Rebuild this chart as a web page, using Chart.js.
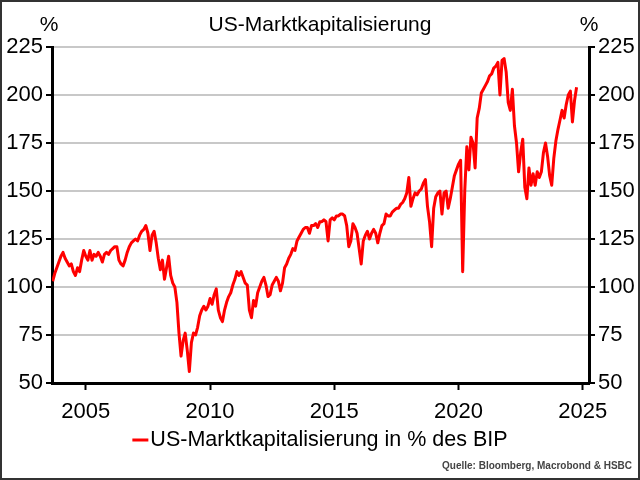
<!DOCTYPE html>
<html>
<head>
<meta charset="utf-8">
<script src="https://cdn.jsdelivr.net/npm/chart.js@4.4.1/dist/chart.umd.min.js"></script>
<style>
  html, body { margin: 0; padding: 0; background: #fff; }
  #wrap { width: 640px; height: 480px; position: relative; }
</style>
</head>
<body>
<div id="wrap"><canvas id="grafik" width="640" height="480"></canvas></div>
<script>
// ======================
// DATEN
// ======================

const titel = "US-Marktkapitalisierung";
const legendeText = "US-Marktkapitalisierung in % des BIP";
const quelle = "Quelle: Bloomberg, Macrobond & HSBC";

// monatlich, ab September 2003
const startJahr = 2003;
const startMonat = 9;

const werte = [
  103, 107, 110, 113,                                        // 2003 (Sep-Dez)
  116, 118, 115, 113, 111, 112, 108, 106, 110, 108, 114, 119, // 2004
  116, 114, 119, 114, 117, 116, 118, 116, 113, 117, 118, 117, // 2005
  119, 120, 121, 121, 114, 112, 111, 114, 118, 121, 123, 124, // 2006
  125, 124, 127, 129, 130, 132, 128, 119, 127, 129, 123, 115, // 2007
  109, 114, 104, 110, 116, 106, 102, 100, 92, 76, 64, 72,     // 2008
  76, 67, 56, 71, 76, 75, 79, 85, 88, 90, 88, 90,             // 2009
  94, 91, 96, 99, 88, 84, 82, 88, 92, 95, 97, 101,            // 2010
  104, 108, 106, 108, 105, 102, 101, 88, 84, 93, 90, 97,      // 2011
  100, 103, 105, 101, 95, 96, 101, 103, 105, 103, 98, 102,    // 2012
  110, 112, 115, 117, 120, 119, 124, 126, 128, 130, 131, 131, // 2013
  128, 132, 132, 133, 131, 134, 134, 135, 134, 124, 135, 136, // 2014
  135, 137, 137, 138, 138, 137, 132, 121, 124, 133, 131, 128, // 2015
  120, 112, 124, 127, 129, 125, 128, 130, 128, 123, 128, 132, // 2016
  133, 138, 137, 137, 139, 140, 141, 141, 143, 144, 146, 149, // 2017
  157, 142, 146, 149, 148, 150, 151, 154, 156, 142, 134, 121, // 2018
  141, 147, 149, 150, 138, 149, 150, 141, 146, 152, 158, 161, // 2019
  164, 166, 108, 150, 173, 161, 178, 175, 162, 188, 193, 201, // 2020
  203, 205, 207, 210, 211, 214, 215, 217, 200, 218, 219, 212, // 2021
  196, 192, 203, 184, 175, 160, 170, 177, 152, 146, 162, 153, // 2022
  159, 153, 160, 157, 160, 170, 175, 168, 158, 153, 167, 176, // 2023
  182, 187, 192, 188, 195, 200, 202, 186, 197, 204            // 2024 (Jan-Okt)
];

const jahrTicks = [2005, 2010, 2015, 2020, 2025];
const yMin = 50;
const yMax = 225;
const yStep = 25;

// Zeitachse aus Startmonat
const zeitpunkte = werte.map((_, i) => startJahr + (startMonat - 1 + i) / 12);

const FONT = '"Liberation Sans", Arial, sans-serif';

// ======================
// ZUSATZ-TEXTE
// ======================

const extras = {
  id: "extras",
  afterDraw(chart) {
    const ctx = chart.ctx;
    const area = chart.chartArea;
    ctx.save();

    ctx.fillStyle = "#000";
    ctx.font = "21px " + FONT;
    ctx.textAlign = "center";
    ctx.textBaseline = "middle";
    ctx.fillText(titel, 320, 25);
    ctx.fillText("%", area.left - 3, 25);
    ctx.fillText("%", area.right, 25);

    // Legende
    ctx.font = "21.5px " + FONT;
    const tw = ctx.measureText(legendeText).width;
    const gesamt = 16 + 2 + tw;
    const x0 = 320 - gesamt / 2;
    ctx.strokeStyle = "#ff0000";
    ctx.lineWidth = 3;
    ctx.beginPath();
    ctx.moveTo(x0, 440);
    ctx.lineTo(x0 + 16, 440);
    ctx.stroke();
    ctx.textAlign = "left";
    ctx.fillText(legendeText, x0 + 18, 440);

    // Quelle
    ctx.font = "bold 10px " + FONT;
    ctx.fillStyle = "#444";
    ctx.textAlign = "right";
    ctx.fillText(quelle, 632, 466);

    // Rahmen
    ctx.strokeStyle = "#333";
    ctx.lineWidth = 2;
    ctx.strokeRect(1, 1, 638, 478);
    ctx.restore();
  }
};

// ======================
// GRAFIK
// ======================

const yAchse = (pos, breite, gitter) => ({
  type: "linear",
  position: pos,
  min: yMin,
  max: yMax,
  afterFit: s => { s.width = breite; },
  ticks: {
    stepSize: yStep,
    color: "#000",
    padding: 3,
    font: { size: 22, family: FONT },
    callback: v => String(v)
  },
  grid: {
    drawOnChartArea: gitter,
    color: "#c8c8c8",
    lineWidth: 2,
    tickColor: "#000",
    tickLength: 6,
    tickWidth: 2
  },
  border: { display: true, color: "#000", width: 3 }
});

new Chart(document.getElementById("grafik"), {
  type: "line",
  data: {
    datasets: [{
      label: legendeText,
      data: werte.map((v, i) => ({ x: zeitpunkte[i], y: v })),
      borderColor: "#ff0000",
      borderWidth: 3,
      borderJoinStyle: "round",
      pointRadius: 0,
      tension: 0,
      yAxisID: "y"
    }]
  },
  options: {
    responsive: false,
    animation: false,
    devicePixelRatio: 1,
    layout: { padding: { top: 47, left: 0, right: 0, bottom: 0 } },
    plugins: {
      legend: { display: false },
      title: { display: false },
      tooltip: { enabled: false }
    },
    scales: {
      x: {
        type: "linear",
        min: 2003.64,
        max: 2025.25,
        afterBuildTicks: s => { s.ticks = jahrTicks.map(v => ({ value: v })); },
        afterFit: s => { s.height = 97; },
        ticks: {
          color: "#000",
          padding: 9,
          maxRotation: 0,
          autoSkip: false,
          font: { size: 22, family: FONT },
          callback: v => String(v)
        },
        grid: {
          drawOnChartArea: false,
          tickColor: "#000",
          tickLength: 7,
          tickWidth: 2
        },
        border: { display: true, color: "#000", width: 3 }
      },
      y: yAchse("left", 52, true),
      y2: yAchse("right", 51, false)
    }
  },
  plugins: [extras]
});
</script>
</body>
</html>
